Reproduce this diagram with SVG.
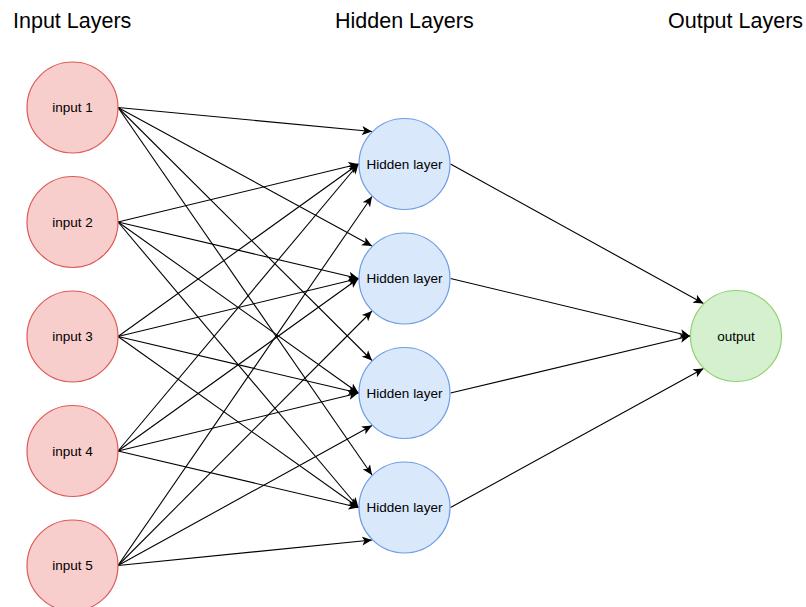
<svg xmlns="http://www.w3.org/2000/svg" width="806" height="607" viewBox="0 0 806 607">
  <defs>
    <style>
      .title { font-family: "Liberation Sans", Arial, sans-serif; font-size: 21.5px; fill: #000; }
      .label { font-family: "Liberation Sans", Arial, sans-serif; font-size: 13.5px; fill: #000; text-anchor: middle; }
      .in circle { fill: #f8cecc; stroke: #dd5a57; stroke-width: 1.2; }
      .hid circle { fill: #dae8fc; stroke: #6d9de3; stroke-width: 1.2; }
      .out circle { fill: #d5f0cf; stroke: #8fd26f; stroke-width: 1.2; }
      #edges line { stroke: #000; stroke-width: 1.1; marker-end: url(#arrow); }
    </style>
    <marker id="arrow" viewBox="-10 -5 11 10" refX="0" refY="0" markerWidth="11" markerHeight="10" markerUnits="userSpaceOnUse" orient="auto">
      <path d="M 0 0 L -10 -4.5 L -7.5 0 L -10 4.5 Z" fill="#000"/>
    </marker>
  </defs>
  <rect width="806" height="607" fill="#fff"/>

  <!-- column titles -->
  <text class="title" x="13" y="28">Input Layers</text>
  <text class="title" x="335" y="28">Hidden Layers</text>
  <text class="title" x="668" y="28">Output Layers</text>

  <!-- connectors -->
  <g id="edges">
    <!-- input 1 -> top-left of each hidden node -->
    <line x1="118" y1="107.5" x2="372" y2="131.5"/>
    <line x1="118" y1="107.5" x2="372" y2="246"/>
    <line x1="118" y1="107.5" x2="372" y2="360.5"/>
    <line x1="118" y1="107.5" x2="372" y2="475"/>
    <!-- inputs 2,3,4 -> left of each hidden node -->
    <line x1="118" y1="222" x2="358.5" y2="164"/>
    <line x1="118" y1="222" x2="358.5" y2="278.5"/>
    <line x1="118" y1="222" x2="358.5" y2="393"/>
    <line x1="118" y1="222" x2="358.5" y2="507.5"/>
    <line x1="118" y1="336.5" x2="358.5" y2="164"/>
    <line x1="118" y1="336.5" x2="358.5" y2="278.5"/>
    <line x1="118" y1="336.5" x2="358.5" y2="393"/>
    <line x1="118" y1="336.5" x2="358.5" y2="507.5"/>
    <line x1="118" y1="451" x2="358.5" y2="164"/>
    <line x1="118" y1="451" x2="358.5" y2="278.5"/>
    <line x1="118" y1="451" x2="358.5" y2="393"/>
    <line x1="118" y1="451" x2="358.5" y2="507.5"/>
    <!-- input 5 -> bottom-left of each hidden node -->
    <line x1="118" y1="565.5" x2="372" y2="196.5"/>
    <line x1="118" y1="565.5" x2="372" y2="311"/>
    <line x1="118" y1="565.5" x2="372" y2="425.5"/>
    <line x1="118" y1="565.5" x2="372" y2="540"/>
    <!-- hidden -> output -->
    <line x1="450.5" y1="164" x2="703.5" y2="303.5"/>
    <line x1="450.5" y1="278.5" x2="690" y2="336"/>
    <line x1="450.5" y1="393" x2="690" y2="336"/>
    <line x1="450.5" y1="507.5" x2="703.5" y2="368.5"/>
  </g>

  <!-- input nodes -->
  <g id="input1" class="in"><circle cx="72.5" cy="107.5" r="45.5"/><text class="label" x="72.5" y="112">input 1</text></g>
  <g id="input2" class="in"><circle cx="72.5" cy="222" r="45.5"/><text class="label" x="72.5" y="226.5">input 2</text></g>
  <g id="input3" class="in"><circle cx="72.5" cy="336.5" r="45.5"/><text class="label" x="72.5" y="341">input 3</text></g>
  <g id="input4" class="in"><circle cx="72.5" cy="451" r="45.5"/><text class="label" x="72.5" y="455.5">input 4</text></g>
  <g id="input5" class="in"><circle cx="72.5" cy="565.5" r="45.5"/><text class="label" x="72.5" y="570">input 5</text></g>

  <!-- hidden nodes -->
  <g id="hidden1" class="hid"><circle cx="404.5" cy="164" r="45.5"/><text class="label" x="404.5" y="168.5">Hidden layer</text></g>
  <g id="hidden2" class="hid"><circle cx="404.5" cy="278.5" r="45.5"/><text class="label" x="404.5" y="283">Hidden layer</text></g>
  <g id="hidden3" class="hid"><circle cx="404.5" cy="393" r="45.5"/><text class="label" x="404.5" y="397.5">Hidden layer</text></g>
  <g id="hidden4" class="hid"><circle cx="404.5" cy="507.5" r="45.5"/><text class="label" x="404.5" y="512">Hidden layer</text></g>

  <!-- output node -->
  <g id="output" class="out"><circle cx="736" cy="336" r="45.5"/><text class="label" x="736" y="340.5">output</text></g>
</svg>
